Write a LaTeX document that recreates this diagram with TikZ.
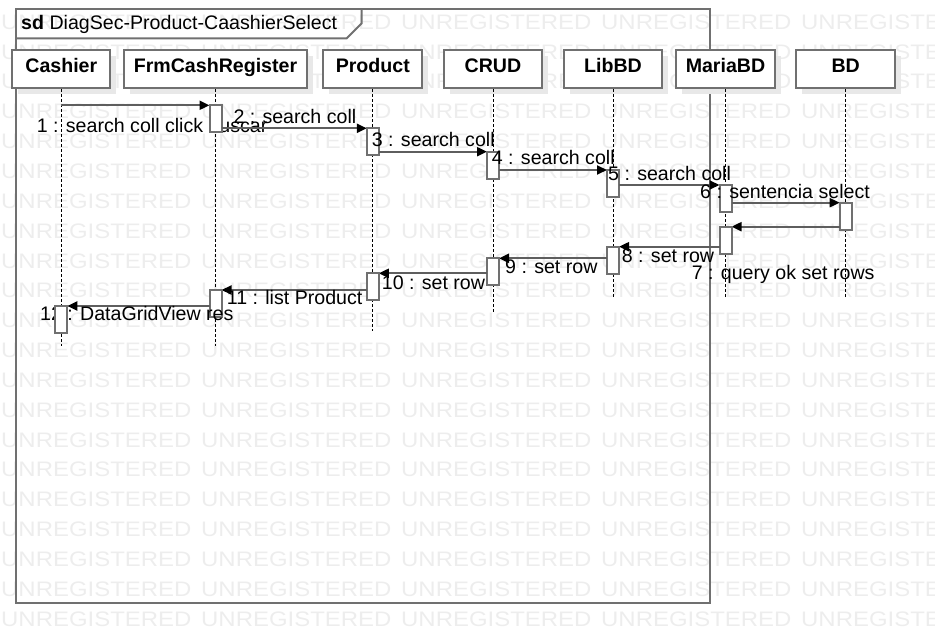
\documentclass[tikz,border=0pt]{standalone}
\usepackage{graphicx}
\usepackage{fontspec}
\setmainfont{Liberation Sans}
\usetikzlibrary{arrows.meta,shadows}
\definecolor{boxgray}{HTML}{707070}
\definecolor{msggray}{HTML}{5E5E5E}
\definecolor{wmgray}{HTML}{EDEDED}
\newcommand\wmtext{\scalebox{1.14}[1]{UNREGISTERED}}

\begin{document}
\begin{tikzpicture}[x=1pt,y=-1pt,
        head/.style={draw=boxgray,line width=2pt,fill=white,minimum height=38pt,inner sep=0pt,
            text height=14.3pt,text depth=7.3pt,font=\fontsize{19.6}{22}\selectfont\bfseries,
            drop shadow={shadow xshift=6pt,shadow yshift=-6pt,fill=black!9,opacity=1}},
        actpos/.style={minimum width=12pt,minimum height=27pt,inner sep=0pt,outer sep=0pt,anchor=north},
        act/.style={actpos,draw=boxgray,line width=2pt,fill=white,anchor=center},
        msg/.style={draw=msggray,line width=2pt,-{Triangle[length=10pt,width=9pt,color=black]}},
        life/.style={black,line width=0.8pt,dash pattern=on 3pt off 2pt},
        lbl/.style={anchor=base west,inner sep=0pt,font=\fontsize{19.6}{22}\selectfont},
        wmark/.style={anchor=west,inner sep=0pt,text=wmgray,font=\fontsize{21}{21}\selectfont},
        frame/.style={draw=boxgray,line width=2pt}]
        \useasboundingbox (0,0) rectangle (935,644);
        \clip (0,0) rectangle (935,644);

        \foreach \r in {0,...,20}
            \foreach \c in {0,...,4}
                \node[wmark] (wm\r-\c) at (1+200*\c, 22+29.85*\r) {\wmtext};

        \draw[frame] (15.7,9.3) rectangle (710,603.3);
        \draw[frame] (15.7,38.3) -- (346.7,38.3) -- (361.7,23.3) -- (361.7,9.3);
        \node[lbl] (title) at (21,30) {\textbf{sd} DiagSec-Product-CaashierSelect};

        \node[head,minimum width=98pt] (cashier) at (61.3,69.3) {Cashier};
        \node[head,minimum width=183.6pt] (frm) at (215.5,69.3) {FrmCashRegister};
        \node[head,minimum width=99pt] (product) at (372.8,69.3) {Product};
        \node[head,minimum width=98pt] (crud) at (493,69.3) {CRUD};
        \node[head,minimum width=98pt] (libbd) at (613,69.3) {LibBD};
        \node[head,minimum width=98.7pt] (mariabd) at (725.5,69.3) {MariaBD};
        \node[head,minimum width=99pt] (bd) at (845.7,69.3) {BD};

        \draw[life] (cashier.south) -- ++(0,256.7);
        \draw[life] (frm.south) -- ++(0,256.7);
        \draw[life] (product.south) -- ++(0,241.7);
        \draw[life] (crud.south) -- ++(0,224.7);
        \draw[life] (libbd.south) -- ++(0,208.7);
        \draw[life] (mariabd.south) -- ++(0,208.7);
        \draw[life] (bd.south) -- ++(0,208.7);

        \node[actpos] (a1) at (215.5,105.3) {};
        \node[actpos] (a2) at (372.8,128.3) {};
        \node[actpos] (a3) at (493,151.7) {};
        \node[actpos] (a4) at (613,170) {};
        \node[actpos] (a5) at (725.5,185) {};
        \node[actpos] (a6) at (845.7,202.7) {};
        \node[actpos] (a7) at (725.5,226.7) {};
        \node[actpos] (a8) at (613,246.7) {};
        \node[actpos] (a9) at (493,258.3) {};
        \node[actpos] (a10) at (372.8,273.3) {};
        \node[actpos] (a11) at (215.5,290) {};
        \node[actpos] (a12) at (61.3,306) {};

        \draw[msg] (cashier |- a1.north) -- (a1.north west);
        \node[lbl] (l1) at (36.7,132.7) {1 : search coll click buscar};
        \node[act] at (a1) {};
        \draw[msg] (a1.east |- a2.north) -- (a2.north west);
        \node[lbl] (l2) at (233.3,123.3) {2 : search coll};
        \node[act] at (a2) {};
        \draw[msg] (a2.east |- a3.north) -- (a3.north west);
        \node[lbl] (l3) at (371.7,146.7) {3 : search coll};
        \node[act] at (a3) {};
        \draw[msg] (a3.east |- a4.north) -- (a4.north west);
        \node[lbl] (l4) at (491.7,165) {4 : search coll};
        \node[act] at (a4) {};
        \draw[msg] (a4.east |- a5.north) -- (a5.north west);
        \node[lbl] (l5) at (608,180.7) {5 : search coll};
        \node[act] at (a5) {};
        \draw[msg] (a5.east |- a6.north) -- (a6.north west);
        \node[lbl] (l6) at (700,198.3) {6 : sentencia select};
        \node[act] at (a6) {};
        \draw[msg] (a6.west |- a7.north) -- (a7.north east);
        \node[lbl] (l7) at (691.7,279.3) {7 : query ok set rows};
        \node[act] at (a7) {};
        \draw[msg] (a7.west |- a8.north) -- (a8.north east);
        \node[lbl] (l8) at (621.7,262.7) {8 : set row};
        \node[act] at (a8) {};
        \draw[msg] (a8.west |- a9.north) -- (a9.north east);
        \node[lbl] (l9) at (505,273.3) {9 : set row};
        \node[act] at (a9) {};
        \draw[msg] (a9.west |- a10.north) -- (a10.north east);
        \node[lbl] (l10) at (381.7,289.3) {10 : set row};
        \node[act] at (a10) {};
        \draw[msg] (a10.west |- a11.north) -- (a11.north east);
        \node[lbl] (l11) at (226.7,305) {11 : list Product};
        \node[act] at (a11) {};
        \draw[msg] (a11.west |- a12.north) -- (a12.north east);
        \node[lbl] (l12) at (40,320.7) {12 : DataGridView res};
        \node[act] at (a12) {};
\end{tikzpicture}
\end{document}
